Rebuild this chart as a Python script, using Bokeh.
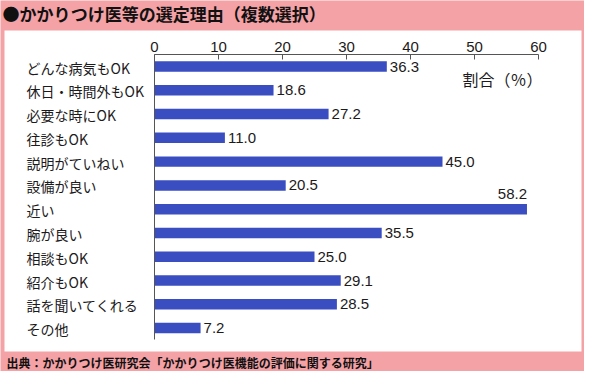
from bokeh.plotting import figure
from bokeh.models import (ColumnDataSource, Range1d, FixedTicker, BoxAnnotation, Label)
from bokeh.core.properties import value
from bokeh.embed import file_html
from bokeh.resources import INLINE

# ---- data ----
title_text = "●かかりつけ医等の選定理由（複数選択）"
source_text = "出典：かかりつけ医研究会「かかりつけ医機能の評価に関する研究」"
unit_text = "割合（％）"
categories = ["どんな病気もOK", "休日・時間外もOK", "必要な時にOK", "往診もOK",
              "説明がていねい", "設備が良い", "近い", "腕が良い", "相談もOK",
              "紹介もOK", "話を聞いてくれる", "その他"]
values = [36.3, 18.6, 27.2, 11.0, 45.0, 20.5, 58.2, 35.5, 25.0, 29.1, 28.5, 7.2]
x_ticks = [0, 10, 20, 30, 40, 50, 60]

PINK = "#f4a2a6"
BLUE = "#3a4ec2"
INK = "#1c1a1b"
AXIS = "#555555"
JP = "Noto Sans CJK JP"
NUM = "Liberation Sans"

# ---- layout (canvas pixels) ----
W, H = 584, 371
X0_PX = 154          # where value 0 sits
PX_PER_UNIT = 6.4    # horizontal scale
ROW0_PX = 66         # centre of first row
ROW_PX = 23.78       # row pitch

x_start = -X0_PX / PX_PER_UNIT
x_end = (W - X0_PX) / PX_PER_UNIT
y_top = -ROW0_PX / ROW_PX
y_bottom = (H - ROW0_PX) / ROW_PX


def dx(px):
    return x_start + px / PX_PER_UNIT


def dy(py):
    return y_top + py / ROW_PX


n = len(categories)
x_max = x_ticks[-1]
fits = [v + 5.5 <= x_max for v in values]
src = ColumnDataSource(dict(
    cat=categories,
    pos=list(range(n)),
    val=values,
    lbl=[f"{v:.1f}" for v in values],
    align=["left" if f else "right" for f in fits],
    xoff=[3 if f else 0 for f in fits],
    yoff=[0 if f else -15 for f in fits],
))

p = figure(width=W, height=H, output_backend="svg", toolbar_location=None,
           x_range=Range1d(x_start, x_end), y_range=Range1d(y_bottom, y_top),
           x_axis_location="above", y_axis_location="left",
           min_border=0, min_border_left=0, min_border_right=0,
           min_border_top=0, min_border_bottom=0,
           background_fill_color=PINK, border_fill_color=PINK, outline_line_color=None)
p.xgrid.grid_line_color = None
p.ygrid.grid_line_color = None

# white panel
p.add_layout(BoxAnnotation(left=dx(4), right=dx(581), top=dy(30), bottom=dy(351),
                           fill_color="white", fill_alpha=1.0, line_color=None,
                           level="underlay"))

# value axis (top)
ax = p.xaxis[0]
ax.fixed_location = -0.5
ax.bounds = (x_ticks[0], x_ticks[-1])
ax.ticker = FixedTicker(ticks=x_ticks)
ax.axis_line_color = AXIS
ax.major_tick_line_color = AXIS
ax.major_tick_in = 5
ax.major_tick_out = 0
ax.minor_tick_line_color = None
ax.major_label_standoff = 3
ax.major_label_text_font = NUM
ax.major_label_text_font_size = "15px"
ax.major_label_text_color = INK

# category axis line (left, at value 0)
ay = p.yaxis[0]
ay.fixed_location = 0
ay.bounds = (-0.5, n - 0.5)
ay.ticker = FixedTicker(ticks=[])
ay.axis_line_color = AXIS
ay.major_tick_line_color = None
ay.minor_tick_line_color = None

p.hbar(y="pos", right="val", left=0, height=0.44, source=src,
       fill_color=BLUE, line_color=None)

p.text(x="val", y="pos", text="lbl", source=src, text_align="align",
       x_offset="xoff", y_offset="yoff", text_baseline="middle",
       text_font=value(NUM), text_font_size="15px", text_color=INK)

p.text(x=dx(26), y="pos", text="cat", source=src, y_offset=1,
       text_align="left", text_baseline="middle",
       text_font=value(JP), text_font_size="14px", text_color=INK)

p.add_layout(Label(x=dx(2), y=dy(12.5), text=title_text,
                   text_font=JP, text_font_style="bold", text_font_size="17px",
                   text_baseline="middle", text_color="#111111"))
p.add_layout(Label(x=dx(6), y=dy(362), text=source_text,
                   text_font=JP, text_font_style="bold", text_font_size="12px",
                   text_baseline="middle", text_color="#111111"))
p.add_layout(Label(x=dx(462), y=dy(78.5), text=unit_text,
                   text_font=JP, text_font_size="16px",
                   text_baseline="middle", text_color=INK))

open("out.html", "w").write(file_html(p, INLINE))
